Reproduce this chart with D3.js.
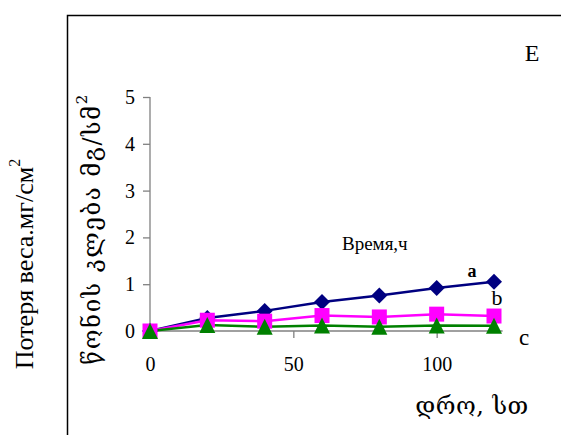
<!DOCTYPE html>
<html>
<head>
<meta charset="utf-8">
<script src="https://cdn.jsdelivr.net/npm/d3@7"></script>
<style>
  body { margin: 0; background: #fff; }
  svg { display: block; }
</style>
</head>
<body>
<script>
// hours
const hours = [0, 20, 40, 60, 80, 100, 120];
// weight loss, mg/cm2
const seriesA = [0, 0.28, 0.43, 0.62, 0.76, 0.92, 1.05];
const seriesB = [0, 0.23, 0.21, 0.33, 0.30, 0.36, 0.32];
const seriesC = [0, 0.13, 0.09, 0.12, 0.09, 0.12, 0.11];
const yTicks = [0, 1, 2, 3, 4, 5];
const xTicks = [0, 50, 100];

const width = 561, height = 435;
const serif = "'Liberation Serif', 'Times New Roman', serif";
const geo = "'DejaVu Serif', 'DejaVu Sans', serif";

const svg = d3.select("body").append("svg")
    .attr("width", width)
    .attr("height", height);

// outer frame (only top and left edges visible)
svg.append("path")
    .attr("d", `M67.5,${height} V15.5 H${width}`)
    .attr("fill", "none")
    .attr("stroke", "#000")
    .attr("stroke-width", 1.5);

const x = d3.scaleLinear().domain([0, 120]).range([150, 494]);
const y = d3.scaleLinear().domain([0, 5]).range([331, 97]);

// y axis
const yAxis = svg.append("g")
    .attr("transform", `translate(${x(0)},0)`)
    .call(d3.axisLeft(y).tickValues(yTicks).tickSize(7).tickPadding(8).tickFormat(d3.format("d")));
yAxis.selectAll("path, line").attr("stroke", "#808080").attr("stroke-width", 1.3);
yAxis.select(".domain").attr("d", `M0,${y(5)}V${y(0)}`);
yAxis.selectAll("text").attr("font-family", serif).attr("font-size", 20).attr("fill", "#000");

// x axis
const xAxis = svg.append("g")
    .attr("transform", `translate(0,${y(0)})`)
    .call(d3.axisBottom(x).tickValues(xTicks).tickSize(7).tickPadding(19));
xAxis.selectAll("path, line").attr("stroke", "#808080").attr("stroke-width", 1.3);
xAxis.select(".domain").attr("d", `M${x(0)},0H${x(123)}`);
xAxis.selectAll("text").attr("font-family", serif).attr("font-size", 20).attr("fill", "#000");

const line = d3.line().x((d, i) => x(hours[i])).y(d => y(d));

// marker shapes, size = half width in px
const diamond = { draw(ctx, r) { ctx.moveTo(0, -r); ctx.lineTo(r, 0); ctx.lineTo(0, r); ctx.lineTo(-r, 0); ctx.closePath(); } };
const square = { draw(ctx, r) { ctx.rect(-r, -r, 2 * r, 2 * r); } };
const triangle = { draw(ctx, r) { ctx.moveTo(0, -r); ctx.lineTo(r, r); ctx.lineTo(-r, r); ctx.closePath(); } };

const series = [
  { values: seriesA, color: "#000080", symbol: diamond, size: 8 },
  { values: seriesB, color: "#FF00FF", symbol: square, size: 7.5 },
  { values: seriesC, color: "#008000", symbol: triangle, size: 8 }
];

series.forEach(s => {
  svg.append("path")
      .datum(s.values)
      .attr("d", line)
      .attr("fill", "none")
      .attr("stroke", s.color)
      .attr("stroke-width", 2.5);
});
series.forEach(s => {
  svg.append("g").selectAll("path")
      .data(s.values)
      .join("path")
      .attr("transform", (d, i) => `translate(${x(hours[i])},${y(d)})`)
      .attr("d", d3.symbol(s.symbol, s.size))
      .attr("fill", s.color);
});

// labels
const text = (tx, ty, str, size, family, anchor = "start") =>
  svg.append("text")
      .attr("x", tx).attr("y", ty)
      .attr("font-family", family)
      .attr("font-size", size)
      .attr("text-anchor", anchor)
      .attr("dominant-baseline", "central")
      .text(str);

text(532, 53, "E", 24, serif, "middle");
text(342, 243, "Время,ч", 19, serif);
text(472, 271, "a", 18, serif, "middle").attr("font-weight", "bold");
text(497, 297, "b", 22, serif, "middle");
text(524, 337, "c", 23, serif, "middle");
text(472, 406, "დრო,  სთ", 24, geo, "middle").attr("letter-spacing", 0.5);

// rotated axis titles
const ruTitle = svg.append("text")
    .attr("transform", "translate(24,264) rotate(-90)")
    .attr("font-family", serif)
    .attr("font-size", 26)
    .attr("text-anchor", "middle")
    .attr("dominant-baseline", "central");
ruTitle.append("tspan").text("Потеря веса.мг/см");
ruTitle.append("tspan").attr("dy", -10).attr("font-size", 16).text("2");

const geoTitle = svg.append("text")
    .attr("transform", "translate(92,229) rotate(-90)")
    .attr("font-family", geo)
    .attr("font-size", 24)
    .attr("letter-spacing", 1.5)
    .attr("text-anchor", "middle")
    .attr("dominant-baseline", "central");
geoTitle.append("tspan").text("წონის  კლება  მგ/სმ");
geoTitle.append("tspan").attr("dy", -10).attr("font-size", 15).text("2");
</script>
</body>
</html>
